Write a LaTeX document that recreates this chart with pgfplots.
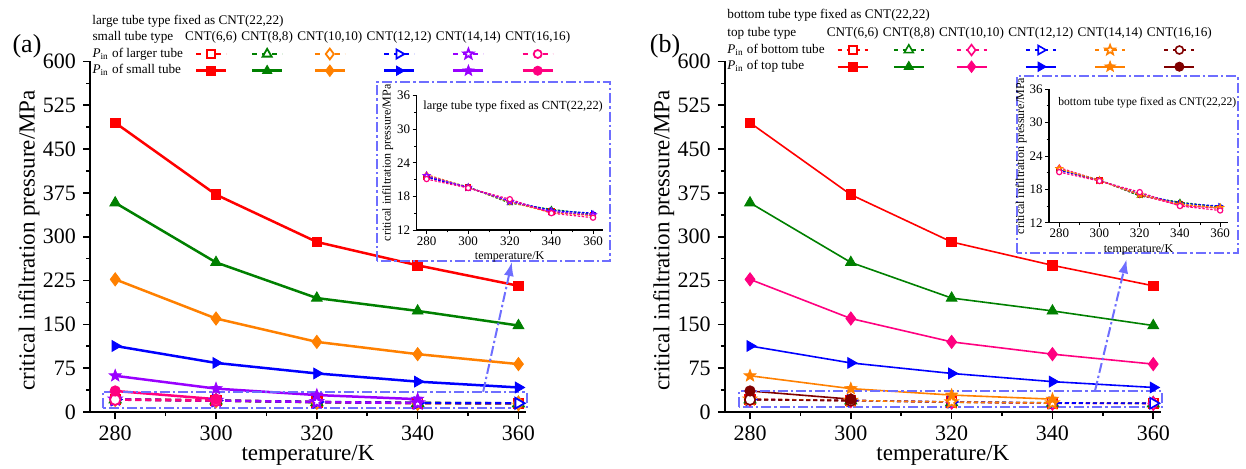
\documentclass[border=0pt]{standalone}
\usepackage{pgfplots}
\usepackage{pgfplotstable}
\pgfplotsset{compat=1.18}
\usepackage{fontspec}
\setmainfont{Liberation Serif}
\usetikzlibrary{arrows.meta}

\definecolor{cRed}{RGB}{255,0,0}
\definecolor{cGreen}{RGB}{0,128,0}
\definecolor{cOrange}{RGB}{255,128,0}
\definecolor{cBlue}{RGB}{0,0,255}
\definecolor{cPurple}{RGB}{153,0,255}
\definecolor{cPink}{RGB}{255,0,128}
\definecolor{cDark}{RGB}{128,0,0}
\definecolor{cBox}{RGB}{110,110,255}

\newcommand{\legfont}{\fontsize{6.6}{7.5}\selectfont}
\newcommand{\Pin}{\textit{P}\textsubscript{in}}

\pgfdeclareplotmark{fstar}{%
  \pgfpathmoveto{\pgfpointpolar{90}{\pgfplotmarksize}}%
  \pgfpathlineto{\pgfpointpolar{126}{0.42\pgfplotmarksize}}%
  \pgfpathlineto{\pgfpointpolar{162}{\pgfplotmarksize}}%
  \pgfpathlineto{\pgfpointpolar{198}{0.42\pgfplotmarksize}}%
  \pgfpathlineto{\pgfpointpolar{234}{\pgfplotmarksize}}%
  \pgfpathlineto{\pgfpointpolar{270}{0.42\pgfplotmarksize}}%
  \pgfpathlineto{\pgfpointpolar{306}{\pgfplotmarksize}}%
  \pgfpathlineto{\pgfpointpolar{342}{0.42\pgfplotmarksize}}%
  \pgfpathlineto{\pgfpointpolar{18}{\pgfplotmarksize}}%
  \pgfpathlineto{\pgfpointpolar{54}{0.42\pgfplotmarksize}}%
  \pgfpathclose\pgfusepathqfillstroke}

\pgfplotstableread{
T S66 S88 S1010 S1212 S1414 S1616
280 495 358 227 113 62 36
300 372 256 160 84 40 22
320 291 195 120 66 29 nan
340 251 173 99 52 22 nan
360 216 148 82 42 nan nan
}\solidtab

\pgfplotstableread{
T L66 L88 L1010 L1212 L1414 L1616
280 21.5 21.6 21.9 21.4 21.7 21.1
300 19.6 19.7 19.6 19.6 19.6 19.5
320 17.0 16.8 17.0 17.2 17.1 17.5
340 15.3 15.7 15.1 15.5 15.3 15.0
360 14.6 14.8 14.6 15.0 14.7 14.2
}\dashtab

\tikzset{boxst/.style={draw=cBox, line width=1pt, dash pattern=on 5pt off 1.5pt on 1.2pt off 1.5pt}}

\pgfplotsset{
  mainax/.style={
    scale only axis, width=218pt, height=175.3pt,
    xmin=275, xmax=361.5, ymin=0, ymax=600,
    axis x line*=bottom, axis y line*=left,
    axis line style={line width=1pt},
    xtick={280,300,...,360}, ytick={0,75,...,600},
    minor x tick num=1, minor y tick num=1,
    tick align=outside, major tick length=3.5pt, minor tick length=2pt,
    tick style={black, line width=0.8pt},
    /pgf/number format/assume math mode=true,
    tick label style={font=\fontsize{11}{13}\selectfont},
    label style={font=\fontsize{11.5}{13}\selectfont},
    xlabel={temperature/K}, ylabel={critical infiltration pressure/MPa},
    xlabel style={at={(axis description cs:0.5,-0.125)}, anchor=center},
    ylabel style={at={(axis description cs:-0.14,0.49)}, anchor=center},
    clip=false,
    legend columns=7,
    legend cell align=left,
    legend style={draw=none, fill=none, font=\legfont, inner sep=0pt,
      column sep=0.5pt, row sep=1pt, nodes={inner sep=0.6pt}, anchor=north west},
    legend image code/.code={\draw[mark repeat=2,mark phase=2,##1] plot coordinates {(-7.5pt,0pt) (0pt,0pt) (7.5pt,0pt)};},
  },
  hdr/.style={legend image code/.code={\node[font=\legfont,inner sep=0pt,anchor=center] at (0,0) {#1};}},
  insax/.style={
    scale only axis, ymin=12, ymax=36, clip=false,
    axis x line*=bottom, axis y line*=left, axis line style={line width=0.6pt},
    xtick={280,300,...,360}, ytick={12,18,...,36}, minor x tick num=1, minor y tick num=1,
    tick align=outside, major tick length=2pt, minor tick length=1.2pt,
    tick style={black,line width=0.5pt},
    /pgf/number format/assume math mode=true,
    tick label style={font=\fontsize{6.5}{7.5}\selectfont},
    xticklabel style={inner sep=1pt},
    yticklabel style={inner sep=1pt},
    label style={font=\fontsize{6}{7}\selectfont},
    xlabel={temperature/K}, ylabel={critical infiltration pressure/MPa},
    xlabel style={at={(axis description cs:0.5,-0.2)},anchor=center},
    ylabel style={at={(axis description cs:-0.155,0.5)},anchor=center},
    every axis plot/.append style={line width=0.6pt, dash pattern=on 1.2pt off 0.8pt, mark size=1.3pt, mark options={solid, fill=white}},
  },
  dA/.style={line width=1.2pt, dash pattern=on 3pt off 2pt, mark options={solid, fill=white}, every mark/.append style={line width=0.9pt}},
  sA/.style={line width=1.25pt, every mark/.append style={line width=0.4pt}},
  dB/.style={line width=0.8pt, dash pattern=on 2pt off 1.5pt, mark options={solid, fill=white}, every mark/.append style={line width=0.8pt}},
  sB/.style={line width=0.8pt, every mark/.append style={line width=0.4pt}},
  mSq/.style={mark=square*, mark size=2.4pt},
  mTr/.style={mark=triangle*, mark size=3.1pt},
  mDi/.style={mark=diamond*, mark size=3.3pt},
  mTR/.style={mark=triangle*, mark size=3.1pt, every mark/.append style={rotate=-90}},
  mSt/.style={mark=fstar, mark size=3.1pt},
  mCi/.style={mark=*, mark size=2.6pt},
}

\begin{document}
\begin{tikzpicture}
\useasboundingbox (0,0) rectangle (623pt,234pt);

% ================= panel (a) =================
\begin{axis}[mainax, at={(45pt,28pt)}, legend style={at={(axis description cs:0,1.0904)}}]
\addplot[forget plot, cRed, dA, mSq] table[x=T,y=L66] {\dashtab};
\addplot[forget plot, cGreen, dA, mTr] table[x=T,y=L88] {\dashtab};
\addplot[forget plot, cOrange, dA, mDi] table[x=T,y=L1010] {\dashtab};
\addplot[forget plot, cBlue, dA, mTR] table[x=T,y=L1212] {\dashtab};
\addplot[forget plot, cPurple, dA, mSt, restrict x to domain=279:341] table[x=T,y=L1414] {\dashtab};
\addplot[forget plot, cPink, dA, mCi, restrict x to domain=279:301] table[x=T,y=L1616] {\dashtab};
\addplot[forget plot, cRed, sA, mSq] table[x=T,y=S66] {\solidtab};
\addplot[forget plot, cGreen, sA, mTr] table[x=T,y=S88] {\solidtab};
\addplot[forget plot, cOrange, sA, mDi] table[x=T,y=S1010] {\solidtab};
\addplot[forget plot, cBlue, sA, mTR] table[x=T,y=S1212] {\solidtab};
\addplot[forget plot, cPurple, sA, mSt] table[x=T,y=S1414] {\solidtab};
\addplot[forget plot, cPink, sA, mCi] table[x=T,y=S1616] {\solidtab};

\addlegendimage{empty legend}\addlegendentry{small tube type}
\addlegendimage{hdr={CNT(6,6)}}\addlegendentry{}
\addlegendimage{hdr={CNT(8,8)}}\addlegendentry{}
\addlegendimage{hdr={CNT(10,10)}}\addlegendentry{}
\addlegendimage{hdr={CNT(12,12)}}\addlegendentry{}
\addlegendimage{hdr={CNT(14,14)}}\addlegendentry{}
\addlegendimage{hdr={CNT(16,16)}}\addlegendentry{}
\addlegendimage{empty legend}\addlegendentry{\Pin{} of larger tube\hspace{3pt}}
\addlegendimage{cRed, dA, dash pattern=on 2.5pt off 2.5pt, mSq, mark size=2pt}\addlegendentry{}
\addlegendimage{cGreen, dA, dash pattern=on 2.5pt off 2.5pt, mTr, mark size=2.6pt}\addlegendentry{}
\addlegendimage{cOrange, dA, dash pattern=on 2.5pt off 2.5pt, mDi, mark size=2.7pt}\addlegendentry{}
\addlegendimage{cBlue, dA, dash pattern=on 2.5pt off 2.5pt, mTR, mark size=2.6pt}\addlegendentry{}
\addlegendimage{cPurple, dA, dash pattern=on 2.5pt off 2.5pt, mSt, mark size=2.6pt}\addlegendentry{}
\addlegendimage{cPink, dA, dash pattern=on 2.5pt off 2.5pt, mCi, mark size=2pt}\addlegendentry{}
\addlegendimage{empty legend}\addlegendentry{\Pin{} of small tube}
\addlegendimage{cRed, sA, mSq, mark size=2.1pt}\addlegendentry{}
\addlegendimage{cGreen, sA, mTr, mark size=2.7pt}\addlegendentry{}
\addlegendimage{cOrange, sA, mDi, mark size=2.9pt}\addlegendentry{}
\addlegendimage{cBlue, sA, mTR, mark size=2.7pt}\addlegendentry{}
\addlegendimage{cPurple, sA, mSt, mark size=2.8pt}\addlegendentry{}
\addlegendimage{cPink, sA, mCi, mark size=2.3pt}\addlegendentry{}

\draw[boxst] (axis cs:277.5,6.3) rectangle (axis cs:361.6,34.7);
\draw[boxst, -{Latex[length=7pt,width=5pt]}] (axis cs:353,34.7) -- (axis cs:358.7,256.7);
\end{axis}

% inset (a)
\draw[boxst] (188.5pt,103.5pt) rectangle (305pt,193pt);
\begin{axis}[insax, at={(208.3pt,119pt)}, width=93pt, height=67.2pt, xmin=275.2, xmax=364.6]
\addplot[cRed, mark=square*] table[x=T,y=L66] {\dashtab};
\addplot[cGreen, mark=triangle*] table[x=T,y=L88] {\dashtab};
\addplot[cOrange, mark=diamond*] table[x=T,y=L1010] {\dashtab};
\addplot[cBlue, mark=triangle*, every mark/.append style={rotate=-90}] table[x=T,y=L1212] {\dashtab};
\addplot[cPurple, mark=fstar, mark size=1.6pt] table[x=T,y=L1414] {\dashtab};
\addplot[cPink, mark=*] table[x=T,y=L1616] {\dashtab};
\node[anchor=west, font=\fontsize{6.2}{7.5}\selectfont, inner sep=0pt] at (axis description cs:0.034,0.916) {large tube type fixed as CNT(22,22)};
\end{axis}

\node[anchor=west, font=\legfont, inner sep=0pt] at (46pt,223.6pt) {large tube type fixed as CNT(22,22)};
\node[font=\fontsize{13}{15}\selectfont, inner sep=0pt] at (13.5pt,211pt) {(a)};

% ================= panel (b) =================
\begin{axis}[mainax, at={(362.4pt,28pt)}, legend style={at={(axis description cs:0,1.1018)}}]
\addplot[forget plot, cRed, dB, mSq] table[x=T,y=L66] {\dashtab};
\addplot[forget plot, cGreen, dB, mTr] table[x=T,y=L88] {\dashtab};
\addplot[forget plot, cPink, dB, mDi] table[x=T,y=L1010] {\dashtab};
\addplot[forget plot, cBlue, dB, mTR] table[x=T,y=L1212] {\dashtab};
\addplot[forget plot, cOrange, dB, mSt, restrict x to domain=279:341] table[x=T,y=L1414] {\dashtab};
\addplot[forget plot, cDark, dB, mCi, restrict x to domain=279:301] table[x=T,y=L1616] {\dashtab};
\addplot[forget plot, cRed, sB, mSq] table[x=T,y=S66] {\solidtab};
\addplot[forget plot, cGreen, sB, mTr] table[x=T,y=S88] {\solidtab};
\addplot[forget plot, cPink, sB, mDi] table[x=T,y=S1010] {\solidtab};
\addplot[forget plot, cBlue, sB, mTR] table[x=T,y=S1212] {\solidtab};
\addplot[forget plot, cOrange, sB, mSt] table[x=T,y=S1414] {\solidtab};
\addplot[forget plot, cDark, sB, mCi] table[x=T,y=S1616] {\solidtab};

\addlegendimage{empty legend}\addlegendentry{top tube type}
\addlegendimage{hdr={CNT(6,6)}}\addlegendentry{}
\addlegendimage{hdr={CNT(8,8)}}\addlegendentry{}
\addlegendimage{hdr={CNT(10,10)}}\addlegendentry{}
\addlegendimage{hdr={CNT(12,12)}}\addlegendentry{}
\addlegendimage{hdr={CNT(14,14)}}\addlegendentry{}
\addlegendimage{hdr={CNT(16,16)}}\addlegendentry{}
\addlegendimage{empty legend}\addlegendentry{\Pin{} of bottom tube}
\addlegendimage{cRed, dB, dash pattern=on 2pt off 2.5pt, mSq, mark size=2pt}\addlegendentry{}
\addlegendimage{cGreen, dB, dash pattern=on 2pt off 2.5pt, mTr, mark size=2.6pt}\addlegendentry{}
\addlegendimage{cPink, dB, dash pattern=on 2pt off 2.5pt, mDi, mark size=2.7pt}\addlegendentry{}
\addlegendimage{cBlue, dB, dash pattern=on 2pt off 2.5pt, mTR, mark size=2.6pt}\addlegendentry{}
\addlegendimage{cOrange, dB, dash pattern=on 2pt off 2.5pt, mSt, mark size=2.6pt}\addlegendentry{}
\addlegendimage{cDark, dB, dash pattern=on 2pt off 2.5pt, mCi, mark size=2pt}\addlegendentry{}
\addlegendimage{empty legend}\addlegendentry{\Pin{} of top tube}
\addlegendimage{cRed, sB, mSq, mark size=2.1pt}\addlegendentry{}
\addlegendimage{cGreen, sB, mTr, mark size=2.7pt}\addlegendentry{}
\addlegendimage{cPink, sB, mDi, mark size=2.9pt}\addlegendentry{}
\addlegendimage{cBlue, sB, mTR, mark size=2.7pt}\addlegendentry{}
\addlegendimage{cOrange, sB, mSt, mark size=2.8pt}\addlegendentry{}
\addlegendimage{cDark, sB, mCi, mark size=2.3pt}\addlegendentry{}

\draw[boxst] (axis cs:277.9,8.0) rectangle (axis cs:361.7,36.5);
\draw[boxst, -{Latex[length=7pt,width=5pt]}] (axis cs:348.45,36.5) -- (axis cs:354.7,261.3);
\end{axis}

% inset (b)
\draw[boxst] (508.5pt,107.5pt) rectangle (619pt,196pt);
\begin{axis}[insax, at={(524.5pt,122.65pt)}, width=89.5pt, height=66.7pt, xmin=274.9, xmax=363.9]
\addplot[cRed, mark=square*] table[x=T,y=L66] {\dashtab};
\addplot[cGreen, mark=triangle*] table[x=T,y=L88] {\dashtab};
\addplot[cPink, mark=diamond*] table[x=T,y=L1010] {\dashtab};
\addplot[cBlue, mark=triangle*, every mark/.append style={rotate=-90}] table[x=T,y=L1212] {\dashtab};
\addplot[cOrange, mark=fstar, mark size=1.6pt] table[x=T,y=L1414] {\dashtab};
\addplot[cPink, mark=*] table[x=T,y=L1616] {\dashtab};
\node[anchor=west, font=\fontsize{5.8}{7}\selectfont, inner sep=0pt] at (axis description cs:0.05,0.897) {bottom tube type fixed as CNT(22,22)};
\end{axis}

\node[anchor=west, font=\legfont, inner sep=0pt] at (363.5pt,226.5pt) {bottom tube type fixed as CNT(22,22)};
\node[font=\fontsize{13}{15}\selectfont, inner sep=0pt] at (332.5pt,211pt) {(b)};
\end{tikzpicture}
\end{document}
